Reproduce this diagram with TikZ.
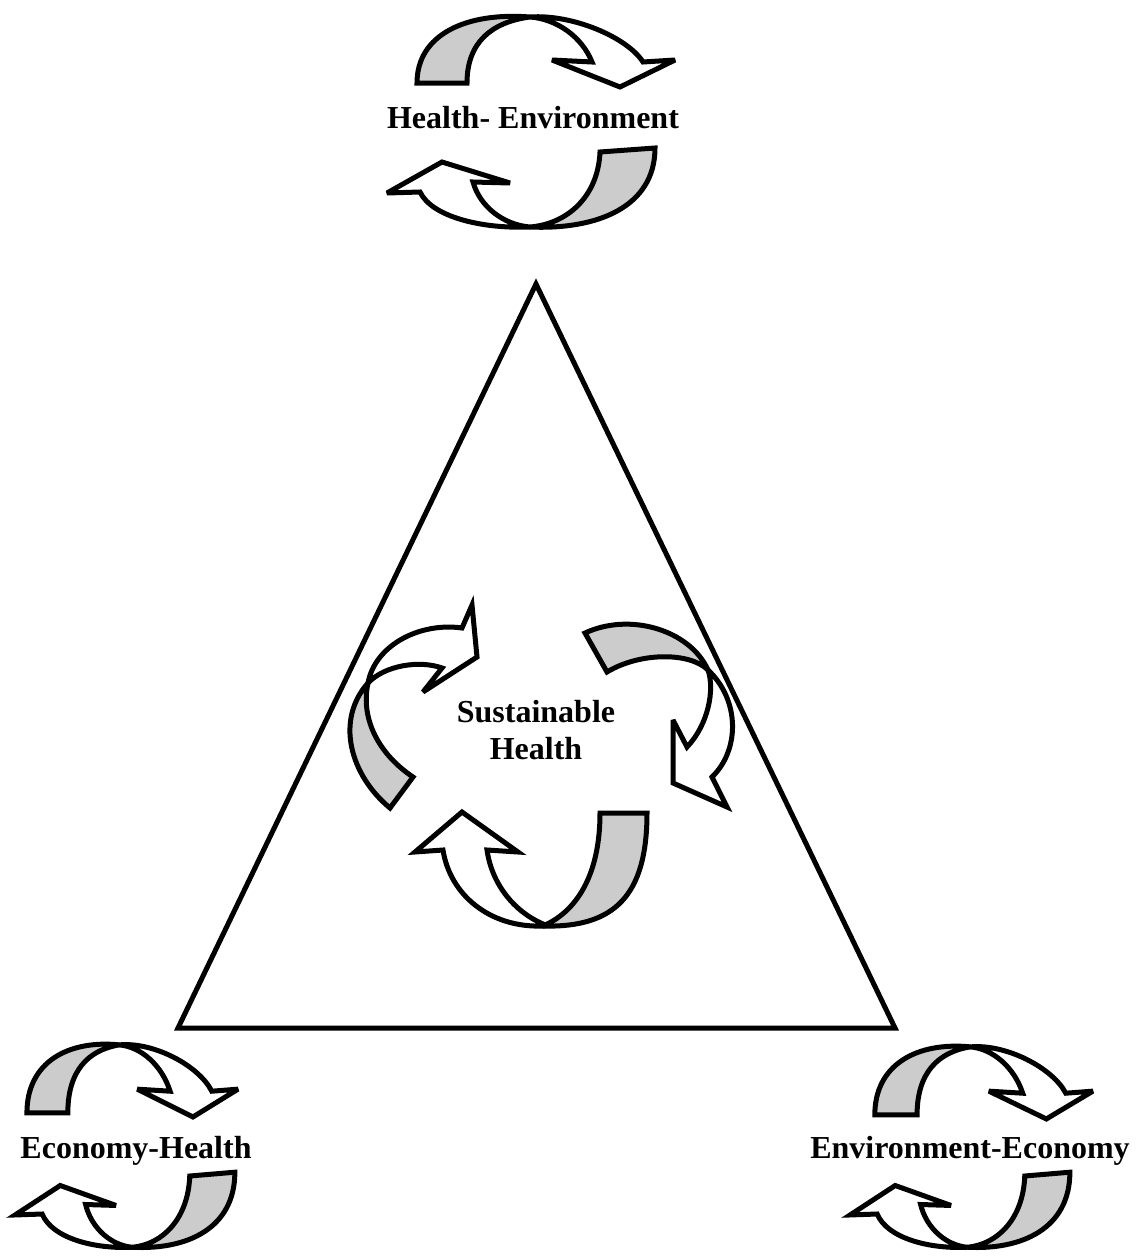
\documentclass[tikz,border=0pt]{standalone}
\usepackage{fontspec}
\setmainfont{Liberation Serif}
\definecolor{ribbongray}{RGB}{204,204,204}
\tikzset{
  band/.style={draw=black, line width=5pt, line join=miter, miter limit=4},
  backband/.style={band, fill=ribbongray},
  frontband/.style={band, fill=white},
  ringtext/.style={font=\bfseries\fontsize{32}{37}\selectfont, inner sep=0pt, text=black},
  frame/.style={draw=black, line width=5pt, line join=miter},
  ribbonA/.pic={
    \path[backband] (-115,-39) .. controls (-115,-88) and (-65,-110) .. (-2,-105)
       .. controls (-40,-100) and (-65,-80) .. (-65,-39) -- cycle;
    \path[frontband] (-2,-105) .. controls (40,-108) and (95,-85) .. (111,-60)
       -- (143,-62) -- (88,-35) -- (20,-62) -- (60,-60)
       .. controls (50,-85) and (25,-103) .. (-2,-105) -- cycle;
  },
  ribbonB/.pic={
    \path[backband] (68,30) -- (123,26) .. controls (123,85) and (65,108) .. (-2,105)
       .. controls (35,102) and (66,75) .. (68,30) -- cycle;
    \path[frontband] (-2,105) .. controls (-50,107) and (-100,95) .. (-112,70)
       -- (-145,71) -- (-90,40) -- (-22,61) -- (-59,60)
       .. controls (-52,85) and (-28,103) .. (-2,105) -- cycle;
  }
}
\begin{document}
\begin{tikzpicture}[x=1pt,y=-1pt]
\path[use as bounding box, fill=white] (0,0) rectangle (1147,1258);

% triangle
\draw[frame] (536,284) -- (895,1028) -- (178,1028) -- cycle;

% top pair: Health- Environment
\pic at (532,122) {ribbonA};
\pic at (532,122) {ribbonB};
\node[ringtext, anchor=base] (he) at (533,128) {Health- Environment};

% bottom-left pair: Economy-Health
\pic[xscale=0.818, yscale=1.03] at (121,1153) {ribbonA};
\pic[xscale=0.82, yscale=0.95] at (134,1147.5) {ribbonB};
\node[ringtext, anchor=base] (eh) at (136,1158) {Economy-Health};

% bottom-right pair: Environment-Economy
\pic[xscale=0.845, yscale=1.03] at (972,1155) {ribbonA};
\pic[xscale=0.82, yscale=0.95] at (969,1147.5) {ribbonB};
\node[ringtext, anchor=base] (ee) at (970,1158) {Environment-Economy};

% central cycle
% upper-left arrow
\path[backband] (390,808) .. controls (350,775) and (335,720) .. (368,683)
   .. controls (360,720) and (380,755) .. (413,777) -- cycle;
\path[frontband] (368,683) .. controls (375,645) and (420,622) .. (462,628)
   -- (472,605) -- (477,657) -- (423,692) -- (442,668)
   .. controls (420,660) and (385,665) .. (368,683) -- cycle;
% right arrow
\path[backband] (585,633) .. controls (630,612) and (690,630) .. (708,670)
   .. controls (690,652) and (640,652) .. (607,672) -- cycle;
\path[frontband] (708,670) .. controls (740,700) and (740,750) .. (712,777)
   -- (727,807) -- (673,783) -- (673,720) -- (687,747)
   .. controls (708,725) and (715,690) .. (708,670) -- cycle;
% bottom arrow
\path[backband] (600,813) -- (647,813) .. controls (647,895) and (615,928) .. (543,926)
   .. controls (580,910) and (600,870) .. (600,813) -- cycle;
\path[frontband] (543,926) .. controls (490,928) and (450,895) .. (443,850)
   -- (415,852) -- (462,812) -- (518,852) -- (487,850)
   .. controls (492,885) and (515,912) .. (543,924) -- cycle;

\node[ringtext, align=center] (sh) at (536,730) {Sustainable\\Health};
\end{tikzpicture}
\end{document}
